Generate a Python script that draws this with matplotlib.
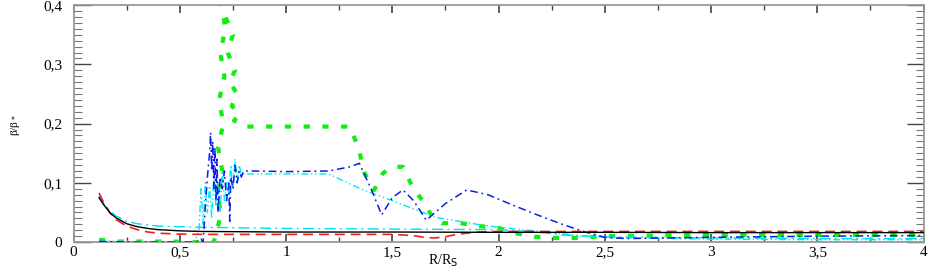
import matplotlib
matplotlib.use("Agg")
import matplotlib.pyplot as plt
from matplotlib.ticker import MultipleLocator, FuncFormatter

# black solid
r_black = [0.12, 0.14, 0.17, 0.2, 0.25, 0.3, 0.35, 0.4, 0.5, 0.6, 0.8, 1.0, 1.5, 2.0, 2.5, 3.0, 3.5, 4.0]
b_black = [0.075, 0.064, 0.05, 0.041, 0.031, 0.026, 0.023, 0.021, 0.019, 0.018, 0.0175, 0.017, 0.017,
           0.0165, 0.0165, 0.016, 0.016, 0.016]

# red dashed
r_red = [0.12, 0.14, 0.17, 0.2, 0.25, 0.3, 0.35, 0.4, 0.5, 0.6, 0.8, 1.0, 1.3, 1.5, 1.6, 1.65, 1.7,
         1.75, 1.8, 1.9, 2.0, 2.5, 3.0, 3.5, 4.0]
b_red = [0.083, 0.068, 0.05, 0.038, 0.027, 0.021, 0.017, 0.015, 0.0135, 0.013, 0.013, 0.013, 0.013,
         0.013, 0.011, 0.008, 0.007, 0.009, 0.013, 0.017, 0.018, 0.018, 0.018, 0.018, 0.018]

# cyan dash-dot (smooth)
r_cyan1 = [0.12, 0.15, 0.2, 0.25, 0.3, 0.4, 0.5, 0.6, 0.8, 1.0, 1.5, 2.0, 2.1, 2.2, 2.3, 2.5, 3.0, 3.5, 4.0]
b_cyan1 = [0.078, 0.06, 0.044, 0.035, 0.031, 0.027, 0.026, 0.025, 0.024, 0.023, 0.022, 0.021, 0.019,
           0.016, 0.012, 0.009, 0.007, 0.006, 0.006]

# cyan dash-dot-dot (oscillating)
r_cyan2 = [0.12, 0.3, 0.5, 0.57, 0.59, 0.60, 0.61, 0.62, 0.63, 0.64, 0.65, 0.66, 0.67, 0.68, 0.69, 0.70,
           0.71, 0.72, 0.73, 0.74, 0.75, 0.76, 0.77, 0.78, 0.79, 0.80, 0.85, 1.0, 1.2, 1.35, 1.5, 1.7,
           1.9, 2.0, 2.2, 2.4, 2.6, 3.0, 3.5, 4.0]
b_cyan2 = [0.002, 0.001, 0.001, 0.0, 0.02, 0.09, 0.03, 0.10, 0.05, 0.095, 0.04, 0.11, 0.06, 0.10, 0.05,
           0.12, 0.07, 0.10, 0.08, 0.13, 0.09, 0.14, 0.10, 0.13, 0.11, 0.115, 0.115, 0.115, 0.115, 0.09,
           0.07, 0.042, 0.03, 0.025, 0.018, 0.01, 0.007, 0.005, 0.004, 0.004]

# blue dash-dot
r_blue = [0.12, 0.3, 0.5, 0.58, 0.60, 0.61, 0.62, 0.63, 0.64, 0.645, 0.65, 0.655, 0.66, 0.665, 0.67,
          0.675, 0.68, 0.69, 0.70, 0.71, 0.72, 0.73, 0.735, 0.74, 0.75, 0.76, 0.77, 0.78, 0.79, 0.80,
          0.85, 1.0, 1.2, 1.3, 1.345, 1.4, 1.45, 1.5, 1.55, 1.6, 1.66, 1.75, 1.85, 1.95, 2.05, 2.16,
          2.3, 2.4, 2.5, 2.6, 3.0, 3.5, 4.0]
b_blue = [0.001, 0.0, 0.0, 0.0, 0.005, 0.0, 0.06, 0.11, 0.15, 0.185, 0.12, 0.17, 0.09, 0.16, 0.07,
          0.14, 0.05, 0.11, 0.09, 0.12, 0.07, 0.10, 0.035, 0.11, 0.09, 0.13, 0.10, 0.12, 0.11, 0.12,
          0.12, 0.119, 0.12, 0.127, 0.133, 0.09, 0.046, 0.075, 0.088, 0.07, 0.037, 0.065, 0.088, 0.08,
          0.065, 0.049, 0.03, 0.018, 0.008, 0.006, 0.008, 0.01, 0.011]

# green thick dotted (the spike zigzags back and forth)
r_green = [0.12, 0.2, 0.3, 0.45, 0.6, 0.66, 0.675, 0.695, 0.675, 0.70, 0.68, 0.705, 0.685, 0.71, 0.69,
           0.715, 0.695, 0.725, 0.735, 0.715, 0.75, 0.725, 0.76, 0.735, 0.77, 0.745, 0.78, 0.755,
           0.785, 0.80, 1.0, 1.2, 1.3, 1.34, 1.37, 1.415, 1.455, 1.5, 1.55, 1.595, 1.64, 1.69, 1.735,
           1.82, 1.91, 2.0, 2.08, 2.17, 2.26, 2.36, 2.5, 3.0, 3.5, 4.0]
b_green = [0.004, 0.001, 0.001, 0.001, 0.0, 0.0, 0.02, 0.05, 0.08, 0.12, 0.16, 0.2, 0.24, 0.28, 0.32,
           0.36, 0.40, 0.45, 0.42, 0.38, 0.35, 0.32, 0.29, 0.27, 0.25, 0.23, 0.215, 0.205, 0.2, 0.195,
           0.195, 0.195, 0.195, 0.16, 0.116, 0.088, 0.116, 0.127, 0.127, 0.093, 0.071, 0.042, 0.032,
           0.032, 0.027, 0.024, 0.015, 0.009, 0.007, 0.007, 0.01, 0.012, 0.012, 0.012]

plt.rcParams['font.family'] = ['Liberation Serif', 'DejaVu Serif']

fig = plt.figure(figsize=(9.31, 2.69), dpi=100)
ax = fig.add_axes([0.079, 0.1, 0.913, 0.881])

ax.plot(r_green, b_green, color='#11ee11', lw=3.0, dashes=(1.5, 3.0), zorder=2)
ax.plot(r_cyan2, b_cyan2, color='#00e8f0', lw=1.0, dashes=(5, 2, 1, 2, 1, 2), zorder=3)
ax.plot(r_blue, b_blue, color='#0a1ee6', lw=1.1, dashes=(5, 2.5, 1.2, 2.5), zorder=4)
ax.plot(r_cyan1, b_cyan1, color='#00e0f0', lw=1.0, dashes=(8, 3, 1.5, 3), zorder=3)
ax.plot(r_red, b_red, color='#ee2020', lw=1.2, dashes=(6, 3.5), zorder=5)
ax.plot(r_black, b_black, color='black', lw=1.0, zorder=6)

ax.set_xlim(0, 4)
ax.set_ylim(0, 0.4)
ax.xaxis.set_major_locator(MultipleLocator(0.5))
ax.xaxis.set_minor_locator(MultipleLocator(0.25))
ax.yaxis.set_major_locator(MultipleLocator(0.1))
ax.yaxis.set_minor_locator(MultipleLocator(0.01))

def comma(v, pos):
    s = ('%.1f' % v).rstrip('0').rstrip('.')
    return s.replace('.', ',')

ax.xaxis.set_major_formatter(FuncFormatter(comma))
ax.yaxis.set_major_formatter(FuncFormatter(comma))

ax.tick_params(axis='both', which='both', direction='in', top=True, right=True,
               labelsize=11, color='#444444')
ax.tick_params(axis='x', which='major', length=6, width=1.2, pad=3)
ax.tick_params(axis='x', which='minor', length=3.5, width=1.0)
ax.tick_params(axis='y', which='major', length=12, width=1.0, pad=8)
ax.tick_params(axis='y', which='minor', length=6, width=0.8, color='#777777')
for s in ax.spines.values():
    s.set_color('#999999')
    s.set_linewidth(1.3)

# axis titles placed where the reference has them
fig.text(443 / 931, 1 - 261 / 269, r'R/R$_\mathrm{S}$', fontsize=10, ha='center', va='center')
fig.text(15 / 931, 1 - 125 / 269, r'β/β$_*$', fontsize=8, ha='center', va='center',
         rotation=90)

fig.savefig('out.png', dpi=100)
